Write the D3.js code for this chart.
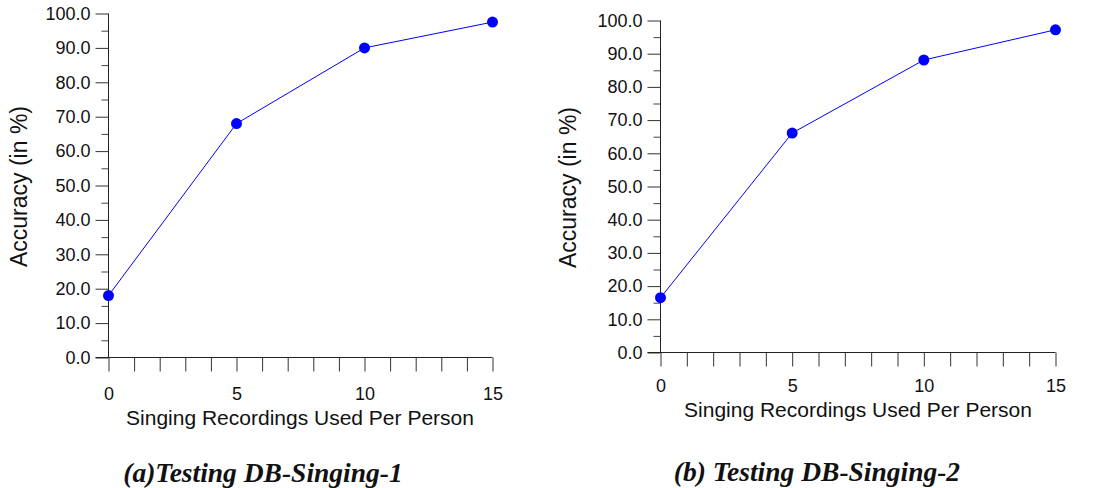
<!DOCTYPE html>
<html>
<head>
<meta charset="utf-8">
<script src="https://cdn.jsdelivr.net/npm/d3@7"></script>
<style>
  body { margin: 0; background: #fff; }
</style>
</head>
<body>
<div id="chart"></div>
<script>
// recordings used per person (x values)
const recordings = [0, 5, 10, 15];
// accuracy in % for each test set
const accuracySinging1 = [18.0, 68.0, 90.0, 97.5];
const accuracySinging2 = [16.5, 66.1, 88.1, 97.2];
const yTicks = [0, 10, 20, 30, 40, 50, 60, 70, 80, 90, 100];
const xTicks = [0, 5, 10, 15];
const captions = ["(a)Testing DB-Singing-1", "(b) Testing DB-Singing-2"];

const width = 1113, height = 488;
const sans = "Liberation Sans, Arial, sans-serif";

const svg = d3.select("#chart")
  .append("svg")
  .attr("width", width)
  .attr("height", height);

// panel layout: plot box in page pixels
const panels = [
  { values: accuracySinging1, caption: captions[0],
    left: 108.5, right: 492.5, top: 13.5, bottom: 357.5,
    yLabelX: 19, xLabelX: 300, xLabelY: 418, tickLabelY: 394, captionX: 263, captionY: 482 },
  { values: accuracySinging2, caption: captions[1],
    left: 660.5, right: 1055.5, top: 20.5, bottom: 352.5,
    yLabelX: 568, xLabelX: 858, xLabelY: 410, tickLabelY: 386, captionX: 817, captionY: 481 }
];

panels.forEach(drawPanel);

function drawPanel(p) {
  const x = d3.scaleLinear().domain([0, 15]).range([p.left, p.right]);
  const y = d3.scaleLinear().domain([0, 100]).range([p.bottom, p.top]);
  const g = svg.append("g");

  // minor y ticks (every 5)
  const yMinor = d3.range(5, 100, 10);
  g.append("g")
    .attr("transform", `translate(${p.left},0)`)
    .call(d3.axisLeft(y).tickValues(yMinor).tickSize(7).tickFormat(""))
    .call(a => a.select(".domain").remove())
    .selectAll("line").attr("stroke", "#444");

  // major y ticks with labels
  const yAxis = g.append("g")
    .attr("transform", `translate(${p.left},0)`)
    .call(d3.axisLeft(y).tickValues(yTicks).tickSize(13).tickPadding(5)
      .tickFormat(d3.format(".1f")));
  yAxis.select(".domain").attr("stroke", "#222").attr("d", `M0,${p.top}V${p.bottom}`);
  yAxis.selectAll("line").attr("stroke", "#333");
  yAxis.selectAll("text").attr("font-size", 18).attr("fill", "#111")
    .attr("font-family", sans);

  // x axis: ticks at every recording step, labels at multiples of 5
  const xAxis = g.append("g")
    .attr("transform", `translate(0,${p.bottom})`)
    .call(d3.axisBottom(x).tickValues(d3.range(0, 16)).tickSize(14)
      .tickFormat(d => xTicks.includes(d) ? d : ""));
  xAxis.select(".domain").attr("stroke", "#222").attr("d", `M${p.left - 13},0H${p.right}`);
  xAxis.selectAll("line").attr("stroke", "#333");
  xAxis.selectAll("text")
    .attr("font-size", 18)
    .attr("fill", "#111")
    .attr("font-family", sans)
    .attr("y", p.tickLabelY - p.bottom)
    .attr("dy", "0.35em");

  // series line + markers
  const pts = recordings.map((r, i) => [r, p.values[i]]);
  g.append("path")
    .datum(pts)
    .attr("fill", "none")
    .attr("stroke", "#0000ff")
    .attr("stroke-width", 1)
    .attr("d", d3.line().x(d => x(d[0])).y(d => y(d[1])));

  g.selectAll("circle")
    .data(pts)
    .enter()
    .append("circle")
    .attr("cx", d => x(d[0]))
    .attr("cy", d => y(d[1]))
    .attr("r", 5.5)
    .attr("fill", "#0000ff");

  // axis titles
  g.append("text")
    .attr("transform", `translate(${p.yLabelX},${(p.top + p.bottom) / 2 + 1}) rotate(-90)`)
    .attr("text-anchor", "middle")
    .attr("dy", "0.35em")
    .attr("font-family", sans)
    .attr("font-size", 23)
    .attr("fill", "#111")
    .text("Accuracy (in %)");

  g.append("text")
    .attr("x", p.xLabelX)
    .attr("y", p.xLabelY)
    .attr("text-anchor", "middle")
    .attr("dy", "0.35em")
    .attr("font-family", sans)
    .attr("font-size", 21)
    .attr("fill", "#111")
    .text("Singing Recordings Used Per Person");

  // caption
  g.append("text")
    .attr("x", p.captionX)
    .attr("y", p.captionY)
    .attr("text-anchor", "middle")
    .attr("font-family", "Liberation Serif, Times New Roman, serif")
    .attr("font-style", "italic")
    .attr("font-weight", "bold")
    .attr("font-size", 27.5)
    .attr("fill", "#111")
    .text(p.caption);
}
</script>
</body>
</html>
